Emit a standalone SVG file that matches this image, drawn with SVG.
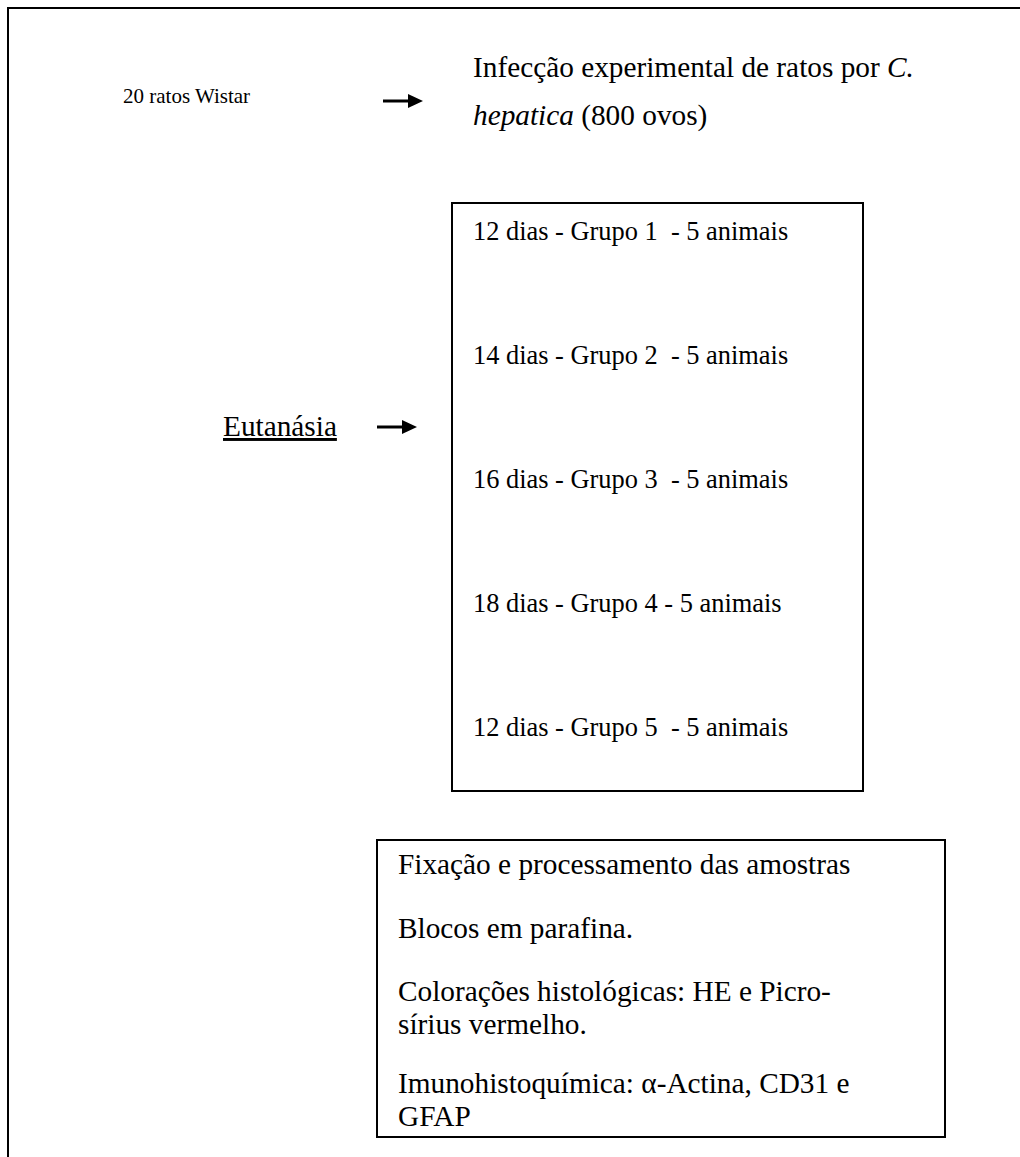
<svg xmlns="http://www.w3.org/2000/svg" width="1020" height="1157" viewBox="0 0 1020 1157">
<style>
text{font-family:"Liberation Serif","Times New Roman",serif;fill:#000}
.m{font-size:29.3px}
.g{font-size:26.4px}
.s{font-size:21px}
.box{fill:none;stroke:#000;stroke-width:2}
.ar{stroke:#000;stroke-width:3}
</style>
<rect width="1020" height="1157" fill="#fff"/>
<rect class="box" x="8" y="8" width="1100" height="1200"/>
<g id="ratos"><text class="s" x="123" y="103">20 ratos Wistar</text></g>
<g id="infeccao">
<text class="m" x="473" y="77">Infecção experimental de ratos por <tspan font-style="italic">C.</tspan></text>
<text class="m" x="473" y="125"><tspan font-style="italic">hepatica</tspan> (800 ovos)</text>
</g>
<g id="eutanasia"><text class="m" x="223" y="436" text-decoration="underline">Eutanásia</text></g>
<g id="grupos">
<rect class="box" x="452" y="203" width="411" height="588"/>
<text class="g" x="473" y="240" xml:space="preserve">12 dias - Grupo 1  - 5 animais</text>
<text class="g" x="473" y="364" xml:space="preserve">14 dias - Grupo 2  - 5 animais</text>
<text class="g" x="473" y="488" xml:space="preserve">16 dias - Grupo 3  - 5 animais</text>
<text class="g" x="473" y="612">18 dias - Grupo 4 - 5 animais</text>
<text class="g" x="473" y="736" xml:space="preserve">12 dias - Grupo 5  - 5 animais</text>
</g>
<g id="processamento">
<rect class="box" x="377" y="840" width="568" height="297"/>
<text class="m" x="398" y="874">Fixação e processamento das amostras</text>
<text class="m" x="398" y="938">Blocos em parafina.</text>
<text class="m" x="398" y="1001">Colorações histológicas: HE e Picro-</text>
<text class="m" x="398" y="1034">sírius vermelho.</text>
<text class="m" x="398" y="1093">Imunohistoquímica: α-Actina, CD31 e</text>
<text class="m" x="398" y="1126">GFAP</text>
</g>
<g id="connectors">
<line class="ar" x1="383" y1="101" x2="410" y2="101"/>
<polygon points="408,94 423,101 408,108"/>
<line class="ar" x1="377" y1="427" x2="404" y2="427"/>
<polygon points="402,420 417,427 402,434"/>
</g>
</svg>
